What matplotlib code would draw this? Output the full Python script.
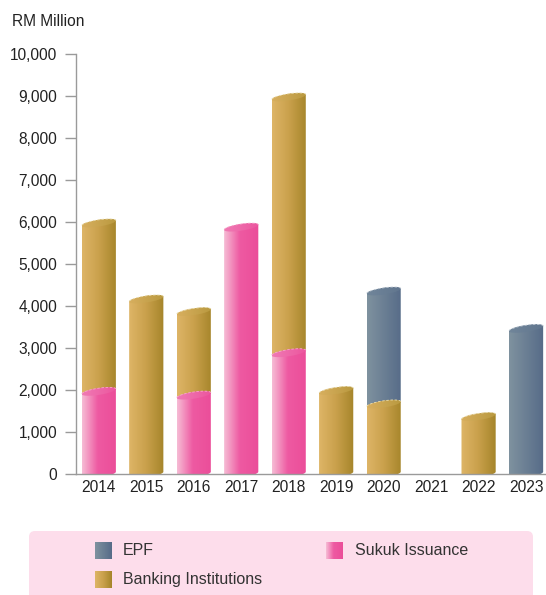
import numpy as np
import matplotlib
matplotlib.use("Agg")
import matplotlib.pyplot as plt
from matplotlib.patches import Polygon, FancyBboxPatch
from matplotlib.colors import LinearSegmentedColormap

plt.rcParams['font.family'] = ['Liberation Sans', 'DejaVu Sans']

# ---- data (RM Million) ----
years = ["2014", "2015", "2016", "2017", "2018", "2019", "2020", "2021", "2022", "2023"]
sukuk = [1970, 0, 1880, 5880, 2890, 0, 0, 0, 0, 0]
banking = [4010, 4170, 1990, 0, 6090, 1990, 1670, 0, 1370, 0]
epf = [0, 0, 0, 0, 0, 0, 2690, 0, 0, 3470]
y_ticks = [0, 1000, 2000, 3000, 4000, 5000, 6000, 7000, 8000, 9000, 10000]
series_names = ["Sukuk Issuance", "Banking Institutions", "EPF"]

cmaps = {
    "Sukuk Issuance": LinearSegmentedColormap.from_list(
        "suk", [(0, "#F6BDD5"), (0.45, "#EE5AA2"), (1, "#EB4D99")]),
    "Banking Institutions": LinearSegmentedColormap.from_list(
        "bank", [(0, "#DEB567"), (0.5, "#C9A04B"), (1, "#A5852A")]),
    "EPF": LinearSegmentedColormap.from_list(
        "epf", [(0, "#7F929F"), (1, "#566B88")]),
}
cap_cmaps = {
    "Sukuk Issuance": LinearSegmentedColormap.from_list(
        "sukc", [(0, "#F07AB4"), (1, "#EC559E")]),
    "Banking Institutions": LinearSegmentedColormap.from_list(
        "bankc", [(0, "#D8AF5F"), (1, "#B9993F")]),
    "EPF": LinearSegmentedColormap.from_list(
        "epfc", [(0, "#71869A"), (1, "#60758E")]),
}
rim_colors = {"Sukuk Issuance": "#F7A9CC", "Banking Institutions": "#E9DDB0",
              "EPF": "#C3CCD6"}

W, H = 546, 595
fig = plt.figure(figsize=(W / 100, H / 100), dpi=100)
ax_left, ax_right = 76 / W, 1.0
ax_bottom, ax_top = (H - 474.3) / H, (H - 54.3) / H
ax = fig.add_axes([ax_left, ax_bottom, ax_right - ax_left, ax_top - ax_bottom])

xs = np.arange(len(years))
half = 0.36
b = 80.0    # semi minor (value units)
s = 60.0    # shear: right side higher
grad = np.linspace(0, 1, 256).reshape(1, -1)


def arc(cx, cy, t0, t1, n=60):
    t = np.linspace(t0, t1, n)
    return np.column_stack([cx + half * np.cos(t), cy + b * np.sin(t) + s * np.cos(t)])


def gradient_fill(poly_xy, cmap, z, ext):
    patch = Polygon(poly_xy, closed=True, facecolor="none", edgecolor="none", zorder=z)
    ax.add_patch(patch)
    im = ax.imshow(grad, cmap=cmap, extent=ext, aspect="auto", zorder=z,
                   interpolation="bilinear")
    im.set_clip_path(patch)


stack = [sukuk, banking, epf]
for i, cx in enumerate(xs):
    base = 0.0
    for k, name in enumerate(series_names):
        v = stack[k][i]
        if v <= 0:
            continue
        y0, y1 = base, base + v
        zb = 20 - 2 * k
        body = np.vstack([arc(cx, y0, np.pi, 2 * np.pi), arc(cx, y1, 0, np.pi)])
        ext = [cx - half, cx + half, y0 - b - s - 10, y1 + b + s + 10]
        gradient_fill(body, cmaps[name], zb, ext)
        cap = arc(cx, y1, 0, 2 * np.pi, 120)
        gradient_fill(cap, cap_cmaps[name], zb + 1, ext)
        up = arc(cx, y1, 0, np.pi, 60)
        ax.plot(up[:, 0], up[:, 1], color=rim_colors[name], lw=0.6, ls=(0, (3, 2)),
                zorder=zb + 1.5)
        base = y1

ax.set_xlim(-0.48, 9.42)
ax.set_ylim(0, 10000)
ax.set_yticks(y_ticks)
ax.set_yticklabels([f"{t:,}" for t in y_ticks])
ax.set_xticks(xs)
ax.set_xticklabels(years)
for sp in ["top", "right"]:
    ax.spines[sp].set_visible(False)
for sp in ["left", "bottom"]:
    ax.spines[sp].set_color("#9A9A9A")
    ax.spines[sp].set_linewidth(1.0)
ax.spines["bottom"].set_zorder(30)
ax.tick_params(axis="y", direction="out", length=8, width=1.0, color="#9A9A9A",
               pad=5.5, labelsize=11.2, labelcolor="#222222")
ax.tick_params(axis="x", length=0, pad=4, labelsize=11.2, labelcolor="#222222")

fig.text(12 / W, 1 - 22 / H, "RM Million", fontsize=11.2, color="#222222",
         ha="left", va="center")

# ---- legend area (pixel coordinates) ----
ov = fig.add_axes([0, 0, 1, 1], zorder=-1)
ov.set_xlim(0, W)
ov.set_ylim(H, 0)
ov.axis("off")
box = FancyBboxPatch((29, 531), 504, 80, boxstyle="round,pad=0,rounding_size=6",
                     facecolor="#FDDDEB", edgecolor="none", zorder=1)
ov.add_patch(box)
leg_items = [("EPF", 95, 542, 123), ("Sukuk Issuance", 326, 542, 355),
             ("Banking Institutions", 95, 571, 123)]
for name, sx, sy, tx in leg_items:
    ov.imshow(grad, cmap=cmaps[name], extent=[sx, sx + 17, sy + 17, sy],
              aspect="auto", interpolation="bilinear", zorder=3)
    ov.text(tx, sy + 8.5, name, fontsize=11.5, color="#333333", ha="left",
            va="center", zorder=4)
ov.set_xlim(0, W)
ov.set_ylim(H, 0)

fig.savefig("out.png", dpi=100)
